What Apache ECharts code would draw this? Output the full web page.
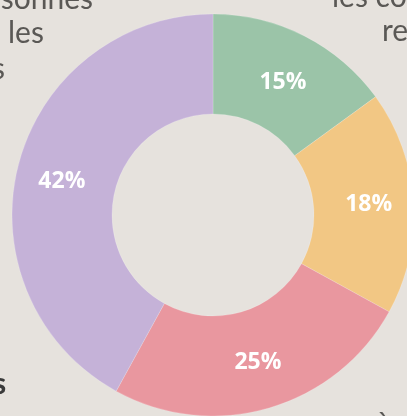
<!DOCTYPE html>
<html>
<head>
<meta charset="utf-8">
<script src="https://cdn.jsdelivr.net/npm/echarts@6/dist/echarts.min.js"></script>
<style>
  html, body { margin: 0; padding: 0; background: #e6e2dd; }
  #chart { width: 407px; height: 416px; }
</style>
</head>
<body>
<div id="chart"></div>
<script>
const sliceNames = ["A", "B", "C", "D"];
const sliceValues = [15, 18, 25, 42];
const sliceColors = ["#9bc4a8", "#f2c784", "#e9979f", "#c5b2d8"];
// small label nudges so the text sits where the reference puts it
const labelNudge = [[0, 5], [2, -1], [2, 0], [-2, 5]];

const chart = echarts.init(document.getElementById("chart"));

// cut-off text fragments around the chart (y is the top of the text box)
const sideText = (text, x, y, opts = {}) => ({
  type: "text",
  x: x,
  y: y,
  silent: true,
  style: {
    text: text,
    fill: opts.fill || "#5a5855",
    font: (opts.weight || "normal") + " " + (opts.size || 30) + "px Lato, sans-serif",
    align: opts.align || "left",
    verticalAlign: "top"
  }
});

const option = {
  backgroundColor: "#e6e2dd",
  animation: false,
  graphic: [
    sideText("personnes", 93, -16, { align: "right" }),
    sideText("les", 8, 18),
    sideText("s", -8, 54),
    sideText("les co", 332, -18),
    sideText("re", 382, 16),
    sideText("s", -7, 369, { weight: "bold", fill: "#3a3a3a" }),
    sideText("à", 376, 409)
  ],
  series: [
    {
      type: "pie",
      center: [213, 215],
      radius: [101, 201],
      startAngle: 90,
      clockwise: true,
      avoidLabelOverlap: false,
      itemStyle: {
        borderColor: "rgba(255,255,255,0.35)",
        borderWidth: 0.5
      },
      label: {
        show: true,
        position: "inside",
        formatter: "{c}%",
        color: "#ffffff",
        fontSize: 23,
        fontWeight: "bold",
        fontFamily: "'Open Sans', sans-serif"
      },
      labelLine: { show: false },
      data: sliceNames.map((n, i) => ({
        name: n,
        value: sliceValues[i],
        itemStyle: { color: sliceColors[i] },
        label: { offset: labelNudge[i] }
      }))
    }
  ]
};

chart.setOption(option);
</script>
</body>
</html>
